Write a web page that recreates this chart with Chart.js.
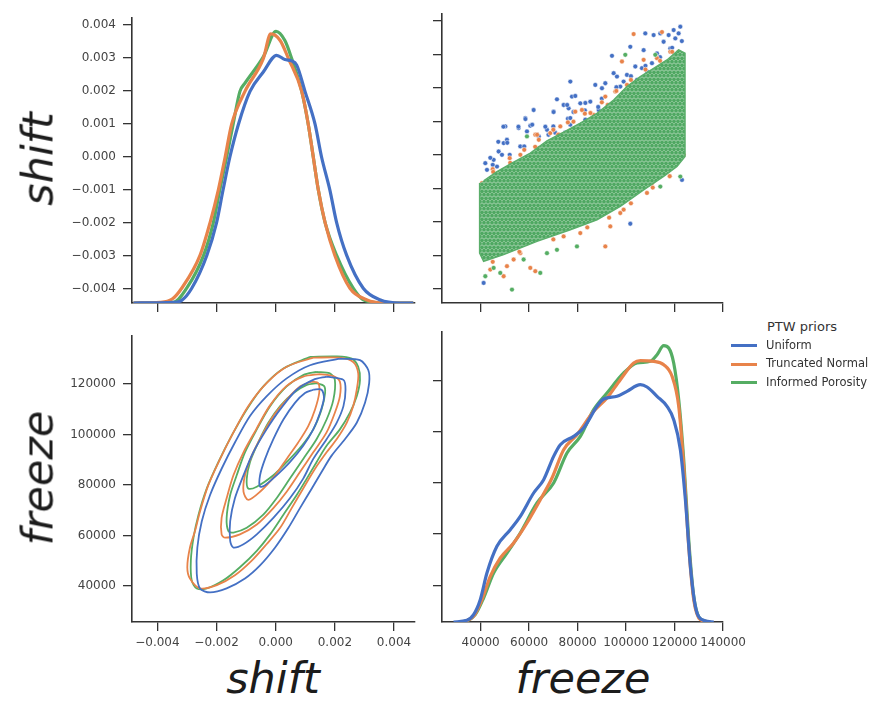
<!DOCTYPE html>
<html lang="en"><head>
<meta charset="utf-8">
<title>PTW priors pair plot</title>
<style type="text/css">
body { margin:0; background:#ffffff; }
#wrap { position:relative; width:878px; height:702px; font-family:"DejaVu Sans",sans-serif; overflow:hidden; }
canvas { position:absolute; }
.big { position:absolute; font-size:43px; font-style:italic; color:#1c1c1c; line-height:1; white-space:nowrap; }
.rot { transform:translate(-50%,-50%) rotate(-90deg); }
.hor { transform:translateX(-50%); }
.leg { position:absolute; color:#333333; line-height:1; white-space:nowrap; }
.sw { position:absolute; width:26px; height:3px; }
</style>
<script src="https://cdn.jsdelivr.net/npm/chart.js@4"></script>
<script>
const legendTitle='PTW priors';
const priors=['Uniform','Truncated Normal','Informed Porosity'];
const varNames=['shift','freeze'];

const shiftTicks=[-0.004,-0.003,-0.002,-0.001,0,0.001,0.002,0.003,0.004];
const shiftXTicks=[-0.004,-0.002,0,0.002,0.004];
const freezeXTicks=[40000,60000,80000,100000,120000,140000];
const freezeYTicks=[40000,60000,80000,100000,120000];

// diagonal kde curves: [value, density]
const kdeShiftUniform=[[-0.00481,0],[-0.00346,1],[-0.00318,4],[-0.00284,22.5],[-0.00233,72.5],[-0.00200,122.5],[-0.00178,172.5],[-0.00155,222.5],[-0.00126,272.5],[-0.00087,322.5],[-0.00042,352],[0.00003,377.5],[0.00031,371],[0.00054,369],[0.00071,362.5],[0.00099,322.5],[0.00133,272.5],[0.00155,222.5],[0.00183,172.5],[0.00206,122.5],[0.00240,72.5],[0.00296,22.5],[0.00352,5],[0.00420,0],[0.00465,0]];
const kdeShiftTrunc=[[-0.00481,0],[-0.00391,1],[-0.00350,6],[-0.00318,22.5],[-0.00256,72.5],[-0.00222,122.5],[-0.00194,172.5],[-0.00171,222.5],[-0.00149,272.5],[-0.00104,322.5],[-0.00042,372.5],[-0.00017,410],[0.00015,400],[0.00043,372.5],[0.00088,322.5],[0.00110,272.5],[0.00127,222.5],[0.00144,172.5],[0.00167,122.5],[0.00200,72.5],[0.00251,22.5],[0.00307,5],[0.00364,0],[0.00465,0]];
const kdeShiftInformed=[[-0.00481,0],[-0.00346,1],[-0.00301,22.5],[-0.00244,72.5],[-0.00211,122.5],[-0.00189,172.5],[-0.00166,222.5],[-0.00144,272.5],[-0.00121,322.5],[-0.00104,335],[-0.00042,375],[0.00001,414],[0.00031,400],[0.00054,372.5],[0.00088,322.5],[0.00110,272.5],[0.00127,222.5],[0.00144,172.5],[0.00167,122.5],[0.00206,72.5],[0.00262,22.5],[0.00296,5],[0.00364,0],[0.00465,0]];

const kdeFreezeUniform=[[28860,0],[34360,2.5],[37110,11],[39860,33.5],[42610,73.5],[46740,113.5],[52240,138.5],[56370,158.5],[61870,193.5],[66000,213.5],[70120,248.5],[72880,266],[78380,278.5],[82500,291],[88000,323.5],[90760,334.5],[96260,338.5],[100390,346],[105890,356],[108640,352.5],[112770,338.5],[116890,323.5],[119640,303.5],[122390,258.5],[124460,183.5],[126520,83.5],[128580,23.5],[131330,3.5],[136150,0]];
const kdeFreezeTrunc=[[32990,0],[37110,8.5],[40550,33.5],[43990,68.5],[48120,96],[53620,118.5],[59120,148.5],[64620,183.5],[69440,216],[74250,258.5],[79750,281],[86630,316],[92130,336],[97640,363.5],[103140,388.5],[105890,392],[111390,391],[115520,386],[118960,368.5],[121710,323.5],[123770,233.5],[125830,113.5],[127900,33.5],[130650,3.5],[134770,0]];
const kdeFreezeInformed=[[33670,0],[37800,11],[41240,36],[45370,73.5],[50870,103.5],[56370,133.5],[63250,178.5],[70120,208.5],[75630,253.5],[81130,278.5],[86630,318.5],[92130,343.5],[99010,373.5],[104510,388.5],[110010,391],[112770,401],[115520,414.5],[117580,411],[119640,388.5],[121710,333.5],[123770,243.5],[125830,123.5],[127900,38.5],[130650,4.5],[134770,0]];

// kde contours: [shift, freeze]
const uniformOuter=[[0.00217,130000],[0.00285,129400],[0.00313,125500],[0.00316,120300],[0.00302,112500],[0.00274,104600],[0.00234,98100],[0.00189,91600],[0.00155,85100],[0.00122,78600],[0.00082,70800],[0.00043,63000],[-0.00002,55200],[-0.00053,48100],[-0.00104,42900],[-0.00166,39000],[-0.00222,37400],[-0.00256,39000],[-0.00267,44800],[-0.00265,55200],[-0.00250,65600],[-0.00222,76000],[-0.00183,86400],[-0.00138,96800],[-0.00087,107300],[-0.00031,115100],[0.00037,122200],[0.00116,127400]];
const truncOuter=[[0.00127,130400],[0.00217,130400],[0.00262,128700],[0.00279,124200],[0.00274,117700],[0.00262,111200],[0.00240,104600],[0.00206,98100],[0.00172,92900],[0.00133,86400],[0.00093,78600],[0.00054,70800],[0.00015,63000],[-0.00031,56500],[-0.00081,50000],[-0.00138,44200],[-0.00199,40300],[-0.00256,39000],[-0.00290,42900],[-0.00299,47400],[-0.00290,55200],[-0.00273,61700],[-0.00256,69500],[-0.00228,79900],[-0.00188,90300],[-0.00143,100800],[-0.00093,111200],[-0.00031,120300],[0.00037,126800]];
const informedOuter=[[0.00116,130700],[0.00206,130900],[0.00257,130000],[0.00279,126800],[0.00285,121600],[0.00274,115100],[0.00251,108600],[0.00217,102000],[0.00172,95500],[0.00138,89000],[0.00105,82500],[0.00071,76000],[0.00026,68200],[-0.00019,60400],[-0.00064,53900],[-0.00121,47400],[-0.00177,42200],[-0.00233,39000],[-0.00267,39000],[-0.00284,42200],[-0.00287,50000],[-0.00278,59100],[-0.00261,68200],[-0.00233,78600],[-0.00194,89000],[-0.00149,99500],[-0.00098,109900],[-0.00042,119000],[0.00026,126100]];
const uniformMid=[[0.00172,122900],[0.00229,121600],[0.00236,117700],[0.00229,111200],[0.00206,104600],[0.00172,98100],[0.00127,90300],[0.00093,82500],[0.00048,74700],[-0.00008,66900],[-0.00064,60400],[-0.00109,56500],[-0.00143,55200],[-0.00154,57800],[-0.00154,65600],[-0.00138,74700],[-0.00109,83800],[-0.00076,92900],[-0.00031,102000],[0.00015,109900],[0.00071,117700],[0.00127,121600]];
const truncMid=[[0.00150,123900],[0.00195,123100],[0.00217,120900],[0.00217,115100],[0.00200,108600],[0.00172,100800],[0.00127,92900],[0.00082,85100],[0.00037,77300],[-0.00008,70800],[-0.00064,64300],[-0.00121,60400],[-0.00171,59100],[-0.00183,60400],[-0.00183,66900],[-0.00166,74700],[-0.00143,83800],[-0.00109,92900],[-0.00066,102000],[-0.00021,111200],[0.00035,119000],[0.00093,122900]];
const informedMid=[[0.00138,124800],[0.00183,124200],[0.00200,121600],[0.00195,113800],[0.00172,105900],[0.00138,98100],[0.00093,90300],[0.00048,82500],[0.00003,74700],[-0.00042,68200],[-0.00098,63000],[-0.00143,61100],[-0.00160,61700],[-0.00166,66900],[-0.00154,76000],[-0.00132,83800],[-0.00104,92900],[-0.00064,102000],[-0.00019,111200],[0.00037,119000],[0.00093,123500]];
const uniformInner=[[0.00127,117700],[0.00155,117700],[0.00163,114400],[0.00150,108600],[0.00127,102000],[0.00093,95500],[0.00048,89000],[0.00003,83800],[-0.00036,79900],[-0.00053,79300],[-0.00053,83800],[-0.00036,90300],[-0.00008,98100],[0.00026,105900],[0.00065,112500],[0.00099,116400]];
const truncInner=[[0.00122,120900],[0.00144,120300],[0.00147,116400],[0.00133,109900],[0.00110,103300],[0.00076,96800],[0.00037,90300],[-0.00002,83800],[-0.00053,77300],[-0.00093,74100],[-0.00109,77300],[-0.00104,83800],[-0.00081,91600],[-0.00047,99500],[-0.00008,107300],[0.00037,113800],[0.00082,119000]];
const informedInner=[[0.00138,120300],[0.00163,119200],[0.00167,116400],[0.00155,109900],[0.00127,102000],[0.00088,95500],[0.00037,89000],[-0.00008,83800],[-0.00064,79300],[-0.00093,78600],[-0.00098,82500],[-0.00087,89000],[-0.00059,96800],[-0.00025,104600],[0.00015,111200],[0.00060,116400],[0.00105,119600]];

// scatter: [freeze, shift]; dense Informed Porosity cloud as its outline
const informedCloud=[[39600,-0.000845],[39600,-0.002935],[41250,-0.003184],[49500,-0.002985],[63250,-0.002587],[77000,-0.002239],[88000,-0.00194],[97610,-0.001542],[107240,-0.001045],[115480,-0.000647],[120980,-0.000348],[124300,-0.00005],[124300,0.003035],[121670,0.003135],[116860,0.002836],[111360,0.002587],[105860,0.002339],[100360,0.00204],[94870,0.00164],[87990,0.00124],[81120,0.00095],[74240,0.00068],[67370,0.00042],[60500,0.00005],[53620,-0.00022],[46750,-0.0005],[41250,-0.00078]];
const uniformDots=[[41250,-0.00383],[41940,-0.00025],[42630,-0.00045],[45380,-0.00015],[47440,0.0001],[48810,0],[49500,0.00035],[50190,0.00085],[50870,0.00045],[55690,0.0008],[56370,0.00025],[58430,0.0011],[59120,0.0007],[60500,0.00087],[61870,0.00134],[63250,0.0006],[67370,0.00075],[70120,0.00129],[71490,0.00166],[74240,0.00149],[76310,0.00139],[77000,0.00219],[77680,0.00174],[79060,0.00176],[81120,0.00154],[83180,0.00105],[85240,0.00159],[87300,0.00209],[88680,0.00134],[90050,0.00199],[91430,0.00214],[94180,0.00296],[94870,0.00244],[96240,0.00234],[97610,0.00204],[98990,0.00219],[100360,0.00239],[101740,0.00323],[103800,0.00264],[104490,0.00224],[106550,0.00259],[107240,0.00313],[107920,0.00363],[108610,0.00249],[110670,0.00274],[111360,0.00358],[112730,0.00303],[114110,0.00363],[115480,0.00338],[117550,0.00358],[118230,0.00318],[119610,0.00373],[120300,0.00348],[121670,0.00363],[122360,0.00383],[123050,-0.00075],[101740,-0.00206],[46750,-0.00035],[52250,-0.0004],
  [45000,-0.0003],[52000,0],[58000,0.00025],[64000,0.00055],[70000,0.00085],[76000,0.00108],[83000,0.00133],[90000,0.00168],[96000,0.00202],[102000,0.00235],[108000,0.00266],[114000,0.00292],[119000,0.0032],[123000,0.0034],
  [44000,-0.00009],[47300,0.00039],[49400,0.00084],[51000,0.00036],[55600,0.00084],[58500,0.00107],[61300,0.0009],[66700,0.00084],[68000,0.0006],[70100,0.00128],[70800,0.00066],[73700,0.00054],[75700,0.00149],[77000,0.0011],[78300,0.00128],[74900,0.00066],[77000,0.0009],[83200,0.00155],[88500,0.00143]];
const truncDots=[[40560,-0.00085],[44000,-0.001],[48810,-0.00065],[53620,-0.00045],[57750,-0.00025],[62560,0.0006],[63930,0.0002],[68740,0.00065],[72180,0.0006],[72870,0.00085],[79060,0.00129],[81800,0.00134],[86620,0.00119],[91430,0.00174],[95550,0.00189],[98300,0.00279],[100360,0.00209],[103110,0.00361],[107240,0.00284],[112730,0.00289],[114800,0.00367],[118230,0.00308],[121670,0.00308],[123730,0],[108610,-0.00114],[110670,-0.00085],[98990,-0.00164],[97610,-0.00174],[91430,-0.00274],[93490,-0.00214],[81120,-0.00234],[56370,-0.00294],[53620,-0.00313],[49500,-0.00363],[44000,-0.00343],[50870,-0.00333],[60500,-0.00338],[62560,-0.00348],[74240,-0.00244],
  [45000,-0.00043],[52000,-0.0001],[58000,0.00015],[64000,0.00045],[70000,0.00075],[76000,0.00097],[83000,0.00123],[90000,0.00157],[96000,0.00191],[102000,0.00224],[108000,0.00255],[114000,0.00281],[119000,0.00308],
  [45200,-0.00051],[52200,-0.00024],[56400,0],[62500,0.00024],[63300,0.0006],[72000,0.0006],[78300,0.00099],[85300,0.00125],[88300,0.0011],[92400,0.00149],
  [45000,-0.0032],[56000,-0.0029],[70000,-0.00253],[84000,-0.00217],[93000,-0.00188],[102000,-0.00145],[111000,-0.00098],[118000,-0.00064]];
const informedDots=[[52940,-0.00403],[45380,-0.00338],[41940,-0.00363],[48120,-0.00353],[64620,-0.00353],[122360,-0.00065],[114110,-0.00095],[79740,-0.00274],[99670,0.00299],[59120,0.00055],[112050,0.00299],[67370,-0.00294],[71490,-0.00284],[57750,-0.00313]];

var colors=['#4470c4','#e8834a','#55ad63'];

function fmtShift(v) { return v.toFixed(3).replace('-','\u2212'); }
function fmtFreeze(v) { return String(v); }
function pts(a) { return a.map(function(p){ return {x:p[0],y:p[1]}; }); }

// speckled fill so the dense cloud reads as packed dots (hex tile)
function dotPattern() {
  var p=document.createElement('canvas'); p.width=8; p.height=7;
  var g=p.getContext('2d');
  g.fillStyle='rgb(172,214,180)'; g.fillRect(0,0,8,7);
  g.fillStyle='#4fa862';
  [[2,1.75],[6,1.75],[0,5.25],[4,5.25],[8,5.25]].forEach(function(c){
    g.beginPath(); g.arc(c[0],c[1],1.85,0,Math.PI*2); g.fill(); });
  return g.createPattern(p,'repeat');
}

function tickAxis(min,max,ticks,labels,fmt,pos) {
  return {type:'linear',position:pos,min:min,max:max,
    afterBuildTicks:function(s){ s.ticks=ticks.map(function(v){ return {value:v}; }); },
    afterFit:function(s){ if (pos=='left') { s.width=80; } else { s.height=30; } },
    grid:{drawOnChartArea:false,drawTicks:true,tickLength:9,color:'#333333',lineWidth:1.3},
    border:{display:true,color:'#333333',width:1.6},
    ticks:{display:labels,padding:pos=='left'?7:5,color:'#444444',font:{size:12},
      autoSkip:false,maxRotation:0,minRotation:0,callback:fmt}};
}

function kdeSet(a,i) {
  return {data:pts(a),borderColor:colors[i],borderWidth:3.2,pointRadius:0,fill:false,
    cubicInterpolationMode:'monotone',yAxisID:'yd'};
}
function loopSet(a,i) {
  return {data:pts(a.concat([a[0]])),showLine:true,borderColor:colors[i],borderWidth:1.8,
    pointRadius:0,tension:0.3,fill:false};
}
function dotSet(a,i) {
  return {data:pts(a),backgroundColor:colors[i],borderColor:'#ffffff',borderWidth:0.5,pointRadius:2.4};
}

function panel(id,L,T,R,B,config) {
  var c=document.getElementById(id);
  c.width=R-L+110; c.height=B-T+40;
  c.style.left=(L-80)+'px'; c.style.top=(T-10)+'px';
  config.options.responsive=false; config.options.animation=false;
  config.options.devicePixelRatio=1;
  config.options.layout={padding:{top:10,right:30,bottom:0,left:0}};
  config.options.plugins={legend:{display:false},tooltip:{enabled:false}};
  return new Chart(c,config);
}

function label(txt,cls,x,y) {
  var d=document.createElement('div'); d.className=cls; d.textContent=txt;
  d.style.left=x+'px'; d.style.top=y+'px';
  document.getElementById('wrap').appendChild(d); return d;
}

function init() {
  Chart.defaults.font.family='"DejaVu Sans", sans-serif';
  var sx=[-0.00486,0.00471], sy=[-0.00443,0.00421], fx=[24080,139970], fy=[25700,138900];

  panel('c11',132,14,415,303,{type:'line',
    data:{datasets:[kdeSet(kdeShiftUniform,0),kdeSet(kdeShiftTrunc,1),kdeSet(kdeShiftInformed,2)]},
    options:{scales:{x:tickAxis(sx[0],sx[1],shiftXTicks,false,fmtShift,'bottom'),
      y:tickAxis(sy[0],sy[1],shiftTicks,true,fmtShift,'left'),
      yd:{display:false,min:0,max:434}}}});

  var cloud={data:pts(informedCloud),showLine:true,fill:'shape',backgroundColor:dotPattern(),
    borderColor:'#5aae6a',borderWidth:1.5,pointRadius:0,tension:0};
  panel('c12',442,14,723,303,{type:'scatter',
    data:{datasets:[dotSet(informedDots,2),cloud,dotSet(truncDots,1),dotSet(uniformDots,0)]},
    options:{scales:{x:tickAxis(fx[0],fx[1],freezeXTicks,false,fmtFreeze,'bottom'),
      y:tickAxis(sy[0],sy[1],shiftTicks,false,fmtShift,'left')}}});

  panel('c21',132,332,415,622,{type:'scatter',
    data:{datasets:[loopSet(uniformOuter,0),loopSet(uniformMid,0),loopSet(uniformInner,0),
      loopSet(truncOuter,1),loopSet(truncMid,1),loopSet(truncInner,1),
      loopSet(informedOuter,2),loopSet(informedMid,2),loopSet(informedInner,2)]},
    options:{scales:{x:tickAxis(sx[0],sx[1],shiftXTicks,true,fmtShift,'bottom'),
      y:tickAxis(fy[0],fy[1],freezeYTicks,true,fmtFreeze,'left')}}});

  panel('c22',442,332,723,622,{type:'line',
    data:{datasets:[kdeSet(kdeFreezeUniform,0),kdeSet(kdeFreezeTrunc,1),kdeSet(kdeFreezeInformed,2)]},
    options:{scales:{x:tickAxis(fx[0],fx[1],freezeXTicks,true,fmtFreeze,'bottom'),
      y:tickAxis(fy[0],fy[1],freezeYTicks,false,fmtFreeze,'left'),
      yd:{display:false,min:0,max:435}}}});

  label(varNames[0],'big rot',38,159);
  label(varNames[1],'big rot',38,478);
  label(varNames[0],'big hor',273,657);
  label(varNames[1],'big hor',583,657);

  var t=label(legendTitle,'leg',767,320); t.style.fontSize='13px';
  for (var i=0;i<priors.length;i++) {
    var yc=345.7+i*18.5;
    var e=label(priors[i],'leg',766,yc-6); e.style.fontSize='11.5px';
    var s=label('','sw',731,yc-1.5); s.style.background=colors[i];
  }
}
</script></head>
<body onload="init();">
<div id="wrap">
<canvas id="c11"></canvas>
<canvas id="c12"></canvas>
<canvas id="c21"></canvas>
<canvas id="c22"></canvas>
</div>
</body></html>
